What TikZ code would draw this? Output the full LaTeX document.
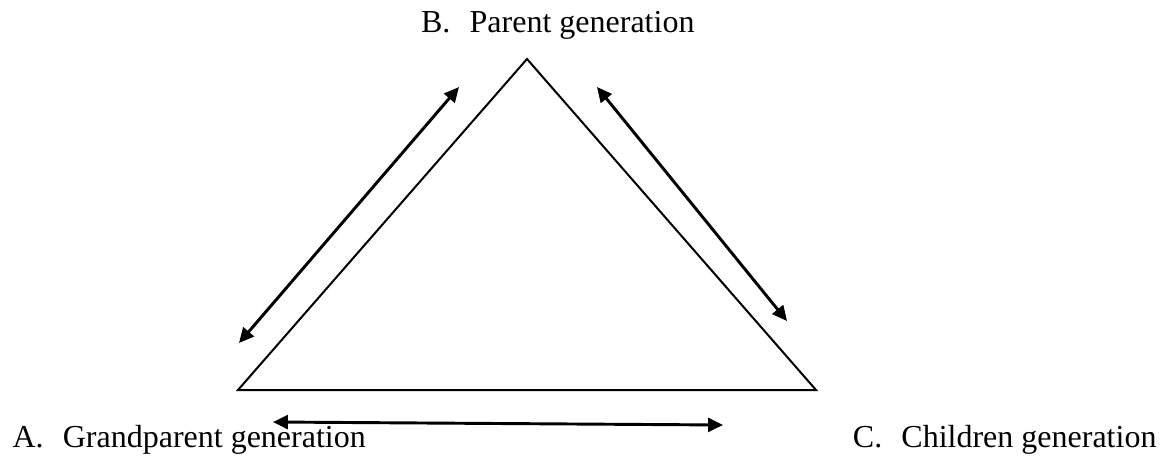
\documentclass[tikz,border=0pt]{standalone}
\usepackage{fontspec}
\setmainfont{Liberation Serif}
\usetikzlibrary{arrows.meta}

\begin{document}
\begin{tikzpicture}[x=0.375pt, y=-0.375pt, >={Triangle[length=5.6pt, width=5.2pt]},
    side/.style={black, line width=0.75pt},
    link/.style={<->, black, line width=1.1pt},
    gen/.style={font=\fontsize{12}{14}\selectfont, inner sep=0pt}]
    \useasboundingbox (0, 0) rectangle (1168, 456);

    % the triangle of the three generations
    \coordinate (cornerA) at (238, 390);
    \coordinate (cornerB) at (527, 59);
    \coordinate (cornerC) at (816, 390);
    \draw[side] (cornerA) -- (cornerB) -- (cornerC) -- cycle;

    % two-way arrows along the sides
    \coordinate (abLow) at (239, 343);
    \coordinate (abHigh) at (459, 87);
    \coordinate (bcHigh) at (597, 87);
    \coordinate (bcLow) at (787, 321);
    \coordinate (acLeft) at (273, 422);
    \coordinate (acRight) at (723, 425);
    \draw[link] (abLow) -- (abHigh);
    \draw[link] (bcHigh) -- (bcLow);
    \draw[link] (acLeft) -- (acRight);

    % \node[gen] at (527, 230) {};

    \node[gen, anchor=base east] (genB) at (695, 33) {B.\hspace{0.6em}Parent generation};
    \node[gen, anchor=base west] (genA) at (12, 447) {A.\hspace{0.6em}Grandparent generation};
    \node[gen, anchor=base east] (genC) at (1157, 447) {C.\hspace{0.6em}Children generation};

\end{tikzpicture}
\end{document}
